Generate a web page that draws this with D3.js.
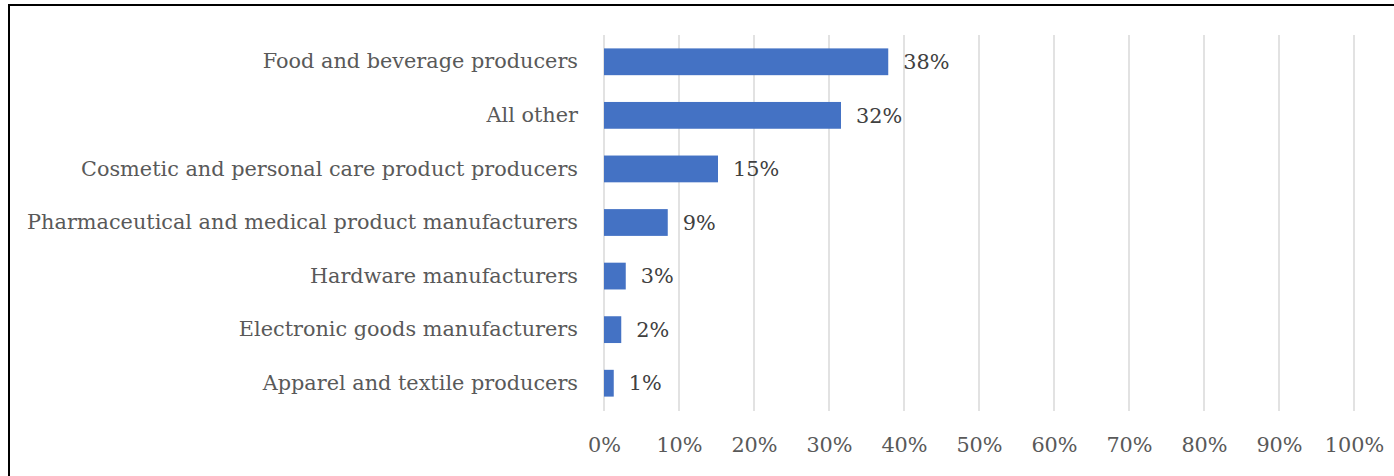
<!DOCTYPE html>
<html>
<head>
<meta charset="utf-8">
<script src="https://cdn.jsdelivr.net/npm/d3@7"></script>
<style>
  body { margin: 0; background: #fff; }
  svg { display: block; }
</style>
</head>
<body>
<svg></svg>
<script>
const categories = [
    'Food and beverage producers',
    'All other',
    'Cosmetic and personal care product producers',
    'Pharmaceutical and medical product manufacturers',
    'Hardware manufacturers',
    'Electronic goods manufacturers',
    'Apparel and textile producers'
];
const values = [37.9, 31.6, 15.2, 8.5, 2.9, 2.3, 1.3];
const valueLabels = ['38%', '32%', '15%', '9%', '3%', '2%', '1%'];
const ticks = [0, 10, 20, 30, 40, 50, 60, 70, 80, 90, 100];

const width = 1394;
const height = 476;
const font = '"DejaVu Serif", "Liberation Serif", serif';
const fontSize = '20.8px';

const svg = d3.select('svg')
    .attr('width', width)
    .attr('height', height);

// chart border
svg.append('rect')
    .attr('x', 9)
    .attr('y', 5)
    .attr('width', 1400)
    .attr('height', 500)
    .attr('fill', 'none')
    .attr('stroke', '#000')
    .attr('stroke-width', 2);

const x = d3.scaleLinear()
    .domain([0, 100])
    .range([604, 1354]);

const y = d3.scaleBand()
    .domain(categories)
    .range([35, 410])
    .paddingInner(0.5)
    .paddingOuter(0.25);

// gridlines
svg.append('g')
    .selectAll('line')
    .data(ticks)
    .enter()
    .append('line')
    .attr('x1', (d) => x(d))
    .attr('x2', (d) => x(d))
    .attr('y1', 35)
    .attr('y2', 411)
    .attr('stroke', '#d9d9d9')
    .attr('stroke-width', 1.5);

// x axis labels
const xAxis = d3.axisBottom(x)
    .tickValues(ticks)
    .tickFormat((d) => d + '%')
    .tickSize(0)
    .tickPadding(0);

const gx = svg.append('g')
    .attr('transform', 'translate(0,437)')
    .call(xAxis);
gx.select('.domain').remove();
gx.selectAll('text')
    .attr('dy', '0.71em')
    .attr('fill', '#595959')
    .style('font-family', font)
    .style('font-size', fontSize);

// y axis labels
const yAxis = d3.axisLeft(y)
    .tickSize(0)
    .tickPadding(26);

const gy = svg.append('g')
    .attr('transform', 'translate(604,0)')
    .call(yAxis);
gy.select('.domain').remove();
gy.selectAll('text')
    .attr('fill', '#595959')
    .style('font-family', font)
    .style('font-size', fontSize);

// bars
svg.append('g')
    .selectAll('rect.bar')
    .data(values)
    .enter()
    .append('rect')
    .attr('class', 'bar')
    .attr('x', x(0))
    .attr('y', (d, i) => y(categories[i]))
    .attr('width', (d) => x(d) - x(0))
    .attr('height', y.bandwidth())
    .attr('fill', '#4472c4');

// data labels
svg.append('g')
    .selectAll('text')
    .data(values)
    .enter()
    .append('text')
    .attr('x', (d) => x(d) + 15)
    .attr('y', (d, i) => y(categories[i]) + y.bandwidth() / 2)
    .attr('dy', '0.35em')
    .attr('fill', '#404040')
    .style('font-family', font)
    .style('font-size', fontSize)
    .text((d, i) => valueLabels[i]);
</script>
</body>
</html>
